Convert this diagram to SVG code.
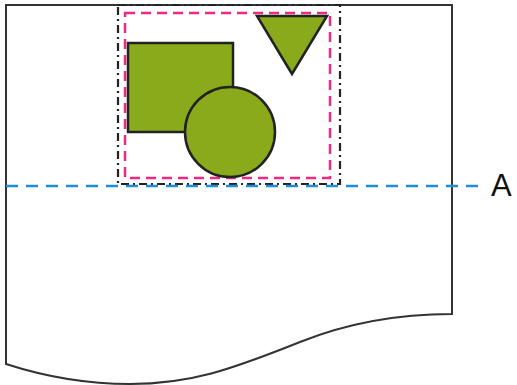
<svg xmlns="http://www.w3.org/2000/svg" width="517" height="385" viewBox="0 0 517 385">
<style>
.paper{fill:#fff;stroke:#333;stroke-width:2}
.shape{fill:#89aa1a;stroke:#222;stroke-width:2.5}
.print{fill:none;stroke:#222;stroke-width:2.2;stroke-dasharray:8 4 2 4}
.margin{fill:none;stroke:#ec2a80;stroke-width:2.5;stroke-dasharray:10 6}
.guide{fill:none;stroke:#1d8fd2;stroke-width:2.5;stroke-dasharray:12 8}
.lbl{font-family:"Liberation Sans",Arial,sans-serif;font-size:31px;fill:#111}
</style>
<rect width="517" height="385" fill="#fff"/>
<g id="paper">
<path class="paper" d="M6,5 H452 V314 C400,314 350,322 300,342 C230,370 190,384 130,384 C80,384 40,375 6,364 Z"/>
</g>
<g id="print-area"><rect class="print" x="118" y="5" width="222" height="179"/></g>
<g id="margin-area"><rect class="margin" x="125" y="13" width="205" height="165"/></g>
<g id="square"><rect class="shape" x="128" y="43" width="105" height="89"/></g>
<g id="circle"><circle class="shape" cx="230" cy="132" r="45"/></g>
<g id="triangle"><polygon class="shape" points="257,16 327,16 292,74"/></g>
<g id="connectors">
<line class="guide" x1="6" y1="186" x2="486" y2="186"/>
</g>
<g id="label-a"><text class="lbl" x="491" y="196">A</text></g>
</svg>
